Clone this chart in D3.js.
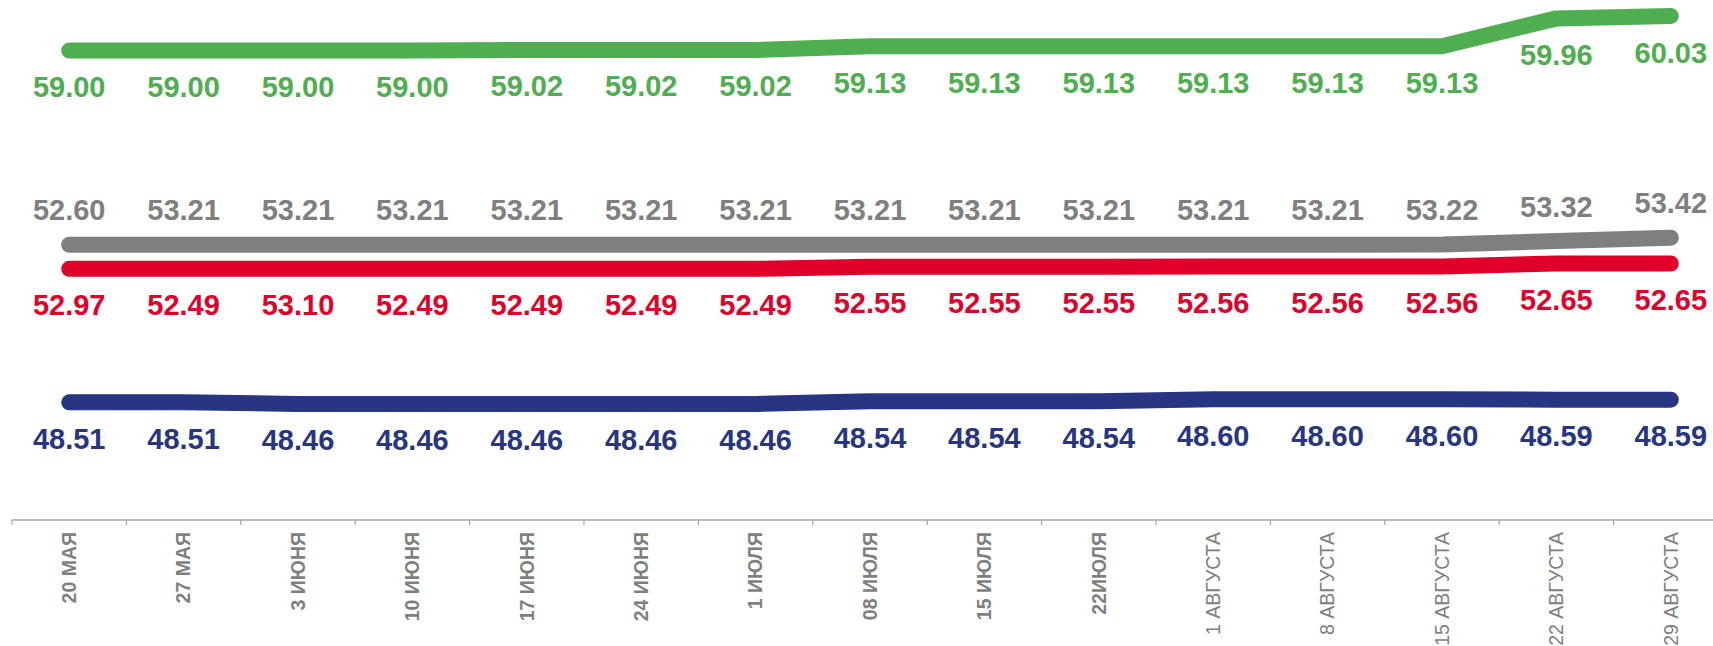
<!DOCTYPE html>
<html>
<head>
<meta charset="utf-8">
<script src="https://cdn.jsdelivr.net/npm/d3@7"></script>
<style>
  html, body { margin: 0; padding: 0; background: #fff; }
  svg { display: block; }
</style>
</head>
<body>
<svg id="chart" width="1713" height="646"></svg>
<script>
const categories = ["20 МАЯ","27 МАЯ","3 ИЮНЯ","10 ИЮНЯ","17 ИЮНЯ","24 ИЮНЯ","1 ИЮЛЯ","08 ИЮЛЯ","15 ИЮЛЯ","22ИЮЛЯ","1 АВГУСТА","8 АВГУСТА","15 АВГУСТА","22 АВГУСТА","29 АВГУСТА"];

// plotted line values
const greenValues = [59.00,59.00,59.00,59.00,59.02,59.02,59.02,59.13,59.13,59.13,59.13,59.13,59.13,59.96,60.03];
const grayValues  = [53.21,53.21,53.21,53.21,53.21,53.21,53.21,53.21,53.21,53.21,53.21,53.21,53.22,53.32,53.42];
const redValues   = [52.49,52.49,52.49,52.49,52.49,52.49,52.49,52.55,52.55,52.55,52.56,52.56,52.56,52.65,52.65];
const blueValues  = [48.51,48.51,48.46,48.46,48.46,48.46,48.46,48.54,48.54,48.54,48.60,48.60,48.60,48.59,48.59];

// data label texts as shown
const greenLabels = ["59.00","59.00","59.00","59.00","59.02","59.02","59.02","59.13","59.13","59.13","59.13","59.13","59.13","59.96","60.03"];
const grayLabels  = ["52.60","53.21","53.21","53.21","53.21","53.21","53.21","53.21","53.21","53.21","53.21","53.21","53.22","53.32","53.42"];
const redLabels   = ["52.97","52.49","53.10","52.49","52.49","52.49","52.49","52.55","52.55","52.55","52.56","52.56","52.56","52.65","52.65"];
const blueLabels  = ["48.51","48.51","48.46","48.46","48.46","48.46","48.46","48.54","48.54","48.54","48.60","48.60","48.60","48.59","48.59"];

const series = [
  { values: greenValues, labels: greenLabels, color: "#4fae4f", pos: "below" },
  { values: grayValues,  labels: grayLabels,  color: "#7f7f7f", pos: "above" },
  { values: redValues,   labels: redLabels,   color: "#e1002a", pos: "below" },
  { values: blueValues,  labels: blueLabels,  color: "#283583", pos: "below" }
];

const svg = d3.select("#chart");
const axisY = 520;
const x0 = 12, band = 114.4;

const x = d3.scaleBand().domain(categories).range([x0, x0 + band * categories.length]).padding(0);
const y = d3.scaleLinear().domain([45, 60]).range([axisY, axisY - 15 * 33.53]);
const cx = c => x(c) + x.bandwidth() / 2;

// axis line
svg.append("line")
  .attr("x1", x0).attr("x2", 1713)
  .attr("y1", axisY).attr("y2", axisY)
  .attr("stroke", "#a6a6a6").attr("stroke-width", 1.5);

// tick marks at band boundaries
svg.append("g").selectAll("line").data(categories).join("line")
  .attr("x1", d => x(d)).attr("x2", d => x(d))
  .attr("y1", axisY).attr("y2", axisY + 5)
  .attr("stroke", "#a6a6a6").attr("stroke-width", 1.2);

// category labels, rotated
svg.append("g").selectAll("text").data(categories).join("text")
  .attr("transform", d => `translate(${cx(d)},${axisY + 12}) rotate(-90)`)
  .attr("text-anchor", "end")
  .attr("dy", "0.35em")
  .attr("font-family", "'Liberation Sans', Arial, sans-serif")
  .attr("font-size", 19.5)
  .attr("font-weight", d => d.includes("АВГУСТА") ? "normal" : "bold")
  .attr("fill", "#7f7f7f")
  .text(d => d);

const line = d3.line().x((d, i) => cx(categories[i])).y(d => y(d));

series.forEach(s => {
  svg.append("path")
    .datum(s.values)
    .attr("d", line)
    .attr("fill", "none")
    .attr("stroke", s.color)
    .attr("stroke-width", 16)
    .attr("stroke-linecap", "round")
    .attr("stroke-linejoin", "round");

  svg.append("g").selectAll("text").data(s.values).join("text")
    .attr("x", (d, i) => cx(categories[i]))
    .attr("y", d => s.pos === "below" ? y(d) + 46.5 : y(d) - 24.5)
    .attr("text-anchor", "middle")
    .attr("font-family", "'Liberation Sans', Arial, sans-serif")
    .attr("font-size", 29)
    .attr("font-weight", "bold")
    .attr("fill", s.color)
    .text((d, i) => s.labels[i]);
});
</script>
</body>
</html>
